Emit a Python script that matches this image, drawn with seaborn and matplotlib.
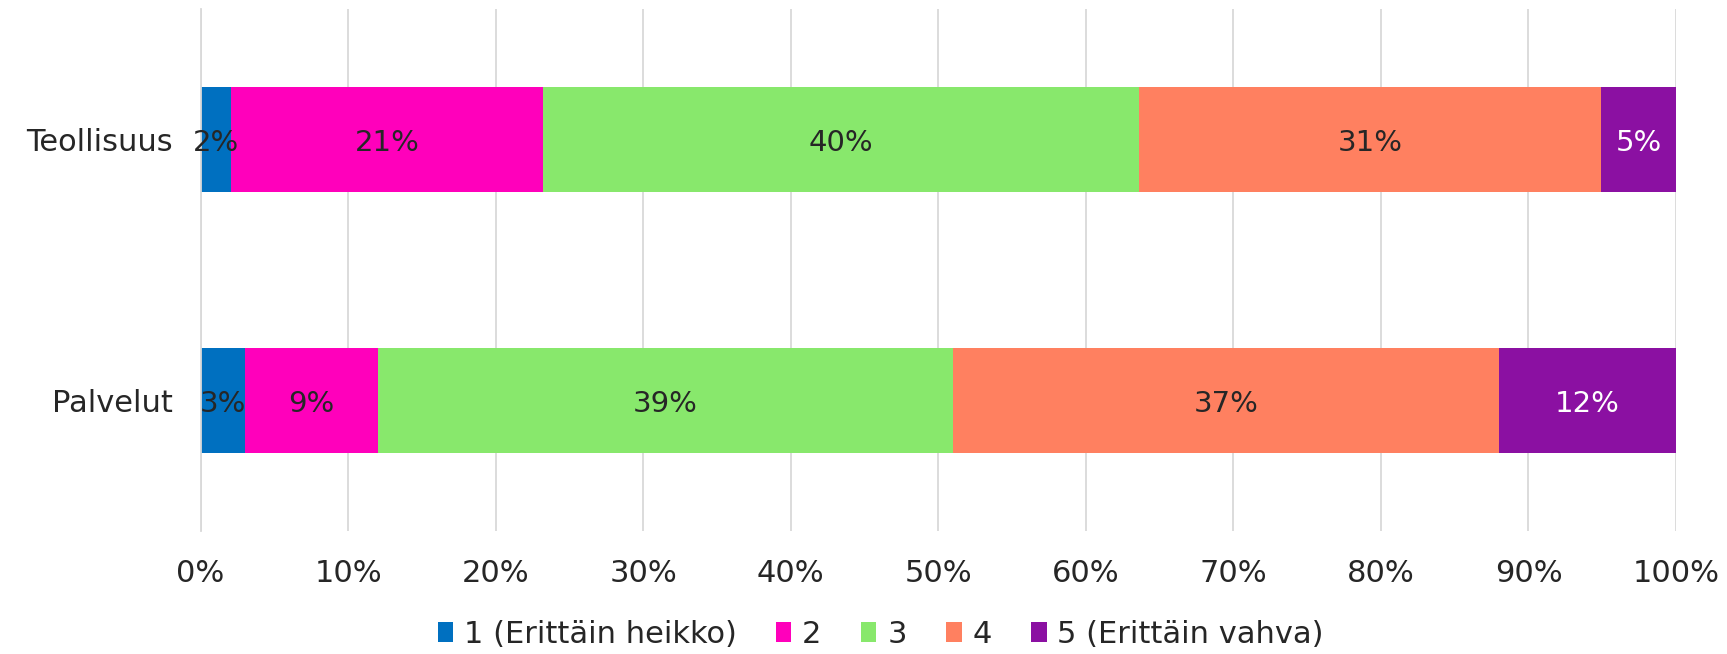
#!/usr/bin/env python3
import matplotlib
matplotlib.use("Agg")
import pandas as pd
import seaborn as sns
from matplotlib import pyplot as plt
from matplotlib.patches import Patch
from matplotlib.ticker import FixedLocator

categories = ["Teollisuus", "Palvelut"]
levels = ["1 (Erittäin heikko)", "2", "3", "4", "5 (Erittäin vahva)"]
teollisuus = [2.1, 21.1, 40.4, 31.3, 5.1]
palvelut = [3.0, 9.0, 39.0, 37.0, 12.0]
x_ticks = [0, 10, 20, 30, 40, 50, 60, 70, 80, 90, 100]

colors = ["#0070C0", "#FF00BB", "#88E86C", "#FF8060", "#8B10A2"]
label_colors = ["#262626", "#262626", "#262626", "#262626", "white"]
GRID = "#D9D9D9"
TEXT = "#262626"


def main():
    sns.set_style("white")
    plt.rcParams["font.family"] = ["DejaVu Sans"]

    df = pd.DataFrame([teollisuus, palvelut], index=categories, columns=levels)
    cum = df.cumsum(axis=1)

    fig = plt.figure(figsize=(17.27, 6.54), dpi=100)
    ax = fig.add_axes([0.1161, 0.188, 0.8544, 0.798])

    # stacked bars: draw cumulative totals from the longest down
    for level, color in reversed(list(zip(levels, colors))):
        sns.barplot(x=cum[level].values, y=categories, color=color, width=0.4,
                    orient="h", saturation=1, linewidth=0, ax=ax, zorder=2)

    for j, level in enumerate(levels):
        for i, cat in enumerate(categories):
            val = df.loc[cat, level]
            ax.text(cum.loc[cat, level] - val / 2, i, f"{round(val)}%",
                    ha="center", va="center_baseline", fontsize=21,
                    color=label_colors[j], zorder=3)

    ax.set_xlim(0, 100)
    ax.set_ylim(1.5, -0.5)
    ax.set_xticks(x_ticks)
    ax.set_xticklabels([f"{t}%" for t in x_ticks])
    ax.set_xlabel("")
    ax.set_ylabel("")
    ax.set_axisbelow(True)
    ax.xaxis.grid(True, color=GRID, linewidth=1.3)
    ax.yaxis.grid(False)

    for side in ["top", "right", "bottom"]:
        ax.spines[side].set_visible(False)
    ax.spines["left"].set_color(GRID)
    ax.spines["left"].set_linewidth(1.3)

    ax.tick_params(axis="x", length=0, pad=20, labelsize=22, labelcolor=TEXT)
    ax.tick_params(axis="y", which="major", length=0, pad=20, labelsize=22, labelcolor=TEXT)
    ax.yaxis.set_minor_locator(FixedLocator([-0.5, 0.5, 1.5]))
    ax.tick_params(axis="y", which="minor", length=6, width=1.3, color=GRID)

    handles = [Patch(facecolor=c, edgecolor="none") for c in colors]
    fig.legend(handles, levels, loc="lower center", bbox_to_anchor=(0.51, -0.025),
               ncol=5, frameon=False, fontsize=22, handlelength=0.5, handleheight=0.6,
               handletextpad=0.35, columnspacing=1.3, borderpad=0.2, labelcolor=TEXT)

    fig.savefig("out.png", dpi=100)
    plt.close(fig)


if __name__ == '__main__':
    main()
